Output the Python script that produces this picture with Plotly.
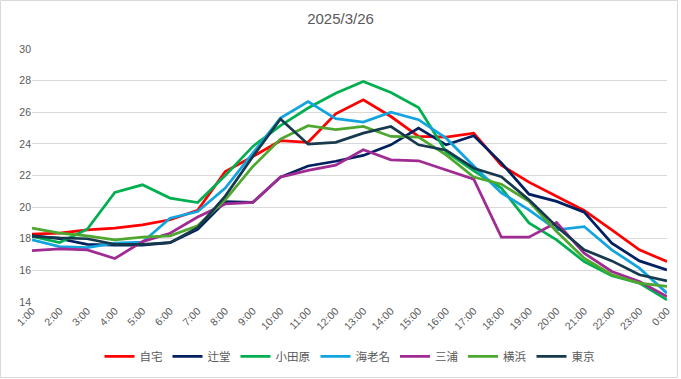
import plotly.graph_objects as go

hours = ["1:00","2:00","3:00","4:00","5:00","6:00","7:00","8:00","9:00","10:00","11:00","12:00",
         "13:00","14:00","15:00","16:00","17:00","18:00","19:00","20:00","21:00","22:00","23:00","0:00"]

jitaku = [18.3, 18.35, 18.56, 18.67, 18.88, 19.2, 19.8, 22.25, 23.2, 24.2, 24.1, 25.9,
          26.79, 25.73, 24.47, 24.43, 24.68, 22.65, 21.58, 20.67, 19.79, 18.56, 17.3, 16.56]
tsujido = [18.2, 18.0, 17.65, 17.6, 17.6, 17.75, 18.6, 20.35, 20.3, 21.9, 22.6, 22.9,
           23.27, 23.94, 25.0, 23.94, 24.51, 22.8, 20.82, 20.36, 19.68, 17.72, 16.6, 16.03]
odawara = [18.15, 17.76, 18.6, 20.93, 21.41, 20.57, 20.29, 22.0, 23.84, 25.15, 26.27, 27.2,
           27.95, 27.25, 26.3, 23.5, 22.3, 21.2, 19.0, 17.93, 16.56, 15.67, 15.19, 14.13]
ebina = [17.93, 17.5, 17.44, 17.72, 17.78, 19.3, 19.72, 21.2, 23.42, 25.63, 26.68, 25.6,
         25.38, 26.01, 25.53, 24.36, 22.6, 20.9, 19.83, 18.56, 18.77, 17.3, 16.14, 14.56]
miura = [17.25, 17.36, 17.3, 16.75, 17.82, 18.35, 19.37, 20.2, 20.3, 21.9, 22.32, 22.65,
         23.63, 22.99, 22.93, 22.36, 21.77, 18.1, 18.1, 19.03, 17.09, 15.93, 15.3, 14.34]
yokohama = [18.67, 18.35, 18.18, 17.93, 18.1, 18.18, 18.82, 20.46, 22.57, 24.3, 25.15, 24.9,
            25.1, 24.47, 24.43, 23.3, 21.9, 21.45, 20.36, 18.46, 16.77, 15.72, 15.19, 14.98]
tokyo = [18.15, 18.05, 18.0, 17.65, 17.65, 17.75, 18.7, 20.7, 23.2, 25.57, 23.98, 24.1,
         24.68, 25.1, 23.94, 23.6, 22.46, 21.92, 20.46, 18.77, 17.3, 16.6, 15.72, 15.33]

names = ["自宅", "辻堂", "小田原", "海老名", "三浦", "横浜", "東京"]
series = [jitaku, tsujido, odawara, ebina, miura, yokohama, tokyo]
colors = ["#FF0000", "#002060", "#00B050", "#12A4DF", "#A02B93", "#4EA72E", "#16394D"]

yticks = [14, 16, 18, 20, 22, 24, 26, 28, 30]

fig = go.Figure()
for n, s, c in zip(names, series, colors):
    fig.add_trace(go.Scatter(x=hours, y=s, name=n, mode="lines",
                             line=dict(color=c, width=2.75)))

font_family = "Noto Sans CJK JP, Liberation Sans, Arial, sans-serif"
lat = "Liberation Sans, Arial, sans-serif"
fig.update_layout(
    width=681, height=379,
    margin=dict(l=32, r=14, t=49, b=77, autoexpand=False),
    paper_bgcolor="white", plot_bgcolor="white",
    font=dict(family=font_family, color="#595959", size=10),
    title=dict(text="2025/3/26", x=0.5, xanchor="center", y=0.95, yanchor="middle",
               font=dict(size=15, color="#595959", family=lat)),
    showlegend=True,
    legend=dict(orientation="h", x=0.5, xanchor="center", y=-0.215, yanchor="middle",
                font=dict(size=11.5, color="#595959", family=font_family),
                itemwidth=30, tracegroupgap=0),
    xaxis=dict(type="category", tickangle=-45, showgrid=False, zeroline=False,
               showline=False, ticks="", automargin=False,
               tickfont=dict(size=10.5, color="#595959", family=lat)),
    yaxis=dict(range=[14, 30], tickvals=yticks, showgrid=True, gridcolor="#D9D9D9",
               gridwidth=1, zeroline=False, showline=False, ticks="", automargin=False,
               tickfont=dict(size=10.5, color="#595959", family=lat)),
)

pw, ph = 681 - 32 - 14, 379 - 49 - 77
fig.add_shape(type="rect", xref="paper", yref="paper",
              x0=(0.5 - 32) / pw, x1=(677.5 - 32) / pw,
              y0=-(377.5 - 49 - ph) / ph, y1=1 + (49 - 0.5) / ph,
              line=dict(color="#D9D9D9", width=1), fillcolor="rgba(0,0,0,0)", layer="below")

fig.write_html("out.html", config={"displayModeBar": False},
               post_script="document.body.style.margin='0';document.body.style.overflow='hidden';")
